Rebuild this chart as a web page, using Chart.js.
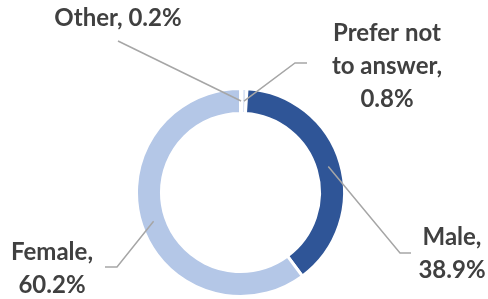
<!DOCTYPE html>
<html>
<head>
<meta charset="utf-8">
<script src="https://cdn.jsdelivr.net/npm/chart.js@4.4.0/dist/chart.umd.min.js"></script>
<style>
html, body { margin: 0; padding: 0; background: #fff; }
</style>
</head>
<body>
<canvas id="genderChart" width="488" height="299"></canvas>
<script>
// Data
const categories = ['Other', 'Prefer not to answer', 'Male', 'Female'];
const shares = [0.2, 0.8, 38.9, 60.2];
const sliceColors = ['#DAE3F3', '#DAE3F3', '#2F5597', '#B4C7E7'];

// Where each data label sits: centre x, centre y of first line, wrap width, leader elbow points
const labelLayout = {
    'Other': { x: 118, y: 18, wrap: 200, line: [[118, 41]] },
    'Prefer not to answer': { x: 387, y: 33, wrap: 130, line: [[307, 63], [295, 63]] },
    'Male': { x: 452, y: 237, wrap: 100, line: [[411, 253], [400, 253]] },
    'Female': { x: 52, y: 252, wrap: 100, line: [[105, 267], [117, 267]] }
};
const labelFont = 'bold 24px Lato';
const lineHeight = 33;

function wrapText(ctx, text, maxWidth) {
    var words = text.split(' ');
    var lines = [];
    var current = '';
    words.forEach(function(w) {
        var test = current ? current + ' ' + w : w;
        if (current && ctx.measureText(test).width > maxWidth) {
            lines.push(current);
            current = w;
        } else {
            current = test;
        }
    });
    if (current) lines.push(current);
    return lines;
}

// Draws the outside labels with their leader lines
const outsideLabels = {
    id: 'outsideLabels',
    afterDatasetsDraw(chart) {
        const ctx = chart.ctx;
        const meta = chart.getDatasetMeta(0);
        ctx.save();
        meta.data.forEach(function(arc, i) {
            const cat = categories[i];
            const lay = labelLayout[cat];
            const p = arc.getCenterPoint();

            // leader line
            ctx.strokeStyle = '#A6A6A6';
            ctx.lineWidth = 1.5;
            ctx.beginPath();
            ctx.moveTo(lay.line[0][0], lay.line[0][1]);
            for (var k = 1; k < lay.line.length; k++) {
                ctx.lineTo(lay.line[k][0], lay.line[k][1]);
            }
            ctx.lineTo(p.x, p.y);
            ctx.stroke();

            // label text
            ctx.font = labelFont;
            ctx.fillStyle = '#404040';
            ctx.textAlign = 'center';
            ctx.textBaseline = 'middle';
            const text = cat + ', ' + shares[i].toFixed(1) + '%';
            wrapText(ctx, text, lay.wrap).forEach(function(t, j) {
                ctx.fillText(t, lay.x, lay.y + j * lineHeight);
            });
        });
        ctx.restore();
    }
};

var ctx = document.getElementById('genderChart').getContext('2d');
var genderChart = new Chart(ctx, {
    type: 'doughnut',
    data: {
        labels: categories,
        datasets: [{
            data: shares,
            backgroundColor: sliceColors,
            borderColor: '#FFFFFF',
            borderWidth: 3
        }]
    },
    options: {
        responsive: false,
        animation: false,
        cutout: '76%',
        rotation: 0,
        layout: {
            padding: { left: 135, right: 142, top: 87, bottom: 1 }
        },
        plugins: {
            legend: { display: false },
            tooltip: { enabled: false }
        }
    },
    plugins: [outsideLabels]
});
</script>
</body>
</html>
